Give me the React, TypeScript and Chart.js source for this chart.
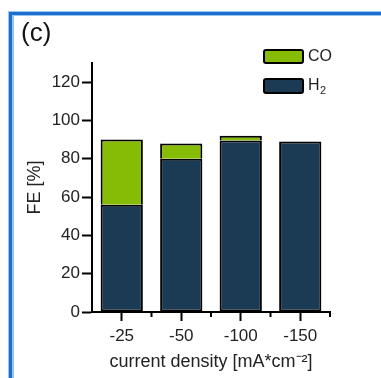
import React, { useEffect, useRef } from "react";
import { Chart, registerables } from "chart.js";

Chart.register(...registerables);

const categories = ["-25", "-50", "-100", "-150"];
const h2Values = [56, 80, 89.5, 89];
const coValues = [34, 8, 2.5, 0];
const yTickLabels = [0, 20, 40, 60, 80, 100, 120];

const FONT = 'Arial, "Liberation Sans", Helvetica, sans-serif';
const GREEN = "#86bc06";
const NAVY = "#1b3a53";

const decorPlugin = {
  id: "decor",
  beforeDraw(chart: any) {
    const ctx = chart.ctx;
    ctx.save();
    ctx.fillStyle = "#ffffff";
    ctx.fillRect(0, 0, chart.width, chart.height);
    // blue frame
    ctx.fillStyle = "#9cc3ee";
    ctx.fillRect(8, 11, 6, chart.height - 11);
    ctx.fillRect(8, 11, chart.width - 8, 5);
    ctx.fillStyle = "#1a6fd0";
    ctx.fillRect(9, 12, 3, chart.height - 12);
    ctx.fillRect(9, 12, chart.width - 9, 3);
    ctx.restore();
  },
  afterDraw(chart: any) {
    const ctx = chart.ctx;
    ctx.save();
    // panel label
    ctx.fillStyle = "#111";
    ctx.font = `26px ${FONT}`;
    ctx.textBaseline = "middle";
    ctx.textAlign = "left";
    ctx.fillText("(c)", 21, 34);

    // minor ticks on x axis at category boundaries
    const xs = chart.scales.x;
    const bottom = chart.chartArea.bottom;
    ctx.strokeStyle = "#000";
    ctx.lineWidth = 2;
    for (let i = 1; i <= categories.length; i++) {
      const px = xs.getPixelForValue(i - 0.5);
      ctx.beginPath();
      ctx.moveTo(px, bottom);
      ctx.lineTo(px, bottom + 5);
      ctx.stroke();
    }

    // legend
    const items = [
      { ds: chart.data.datasets[1], y: 50, h: 13 },
      { ds: chart.data.datasets[0], y: 79, h: 14 },
    ];
    items.forEach((it) => {
      ctx.fillStyle = it.ds.backgroundColor;
      ctx.strokeStyle = "#000";
      ctx.lineWidth = 2;
      ctx.beginPath();
      ctx.roundRect(264, it.y, 39, it.h, 2);
      ctx.fill();
      ctx.stroke();
    });
    ctx.fillStyle = "#222";
    ctx.textBaseline = "middle";
    ctx.font = `16px ${FONT}`;
    ctx.fillText("CO", 308, 57);
    ctx.fillText("H", 308, 86);
    const hw = ctx.measureText("H").width;
    ctx.font = `11px ${FONT}`;
    ctx.fillText("2", 308 + hw + 0.5, 91);
    ctx.restore();
  },
};

export default function App() {
  const ref = useRef<HTMLCanvasElement>(null);
  useEffect(() => {
    if (!ref.current) return;
    const chart = new Chart(ref.current, {
      type: "bar",
      data: {
        labels: categories,
        datasets: [
          {
            label: "H₂",
            data: h2Values,
            backgroundColor: NAVY,
            borderColor: "#000",
            borderWidth: 2,
            borderSkipped: false,
            barPercentage: 0.71,
            categoryPercentage: 1,
          },
          {
            label: "CO",
            data: coValues,
            backgroundColor: GREEN,
            borderColor: "#000",
            borderWidth: 2,
            borderSkipped: "bottom",
            barPercentage: 0.71,
            categoryPercentage: 1,
          },
        ],
      },
      options: {
        animation: false,
        responsive: false,
        devicePixelRatio: 1,
        layout: { padding: { left: 14, right: 51, top: 63, bottom: 0 } },
        plugins: {
          legend: { display: false },
          tooltip: { enabled: false },
        },
        scales: {
          x: {
            stacked: true,
            offset: true,
            afterFit: (s: any) => {
              s.height = 66;
            },
            grid: {
              offset: false,
              drawOnChartArea: false,
              tickLength: 9,
              tickWidth: 2,
              tickColor: "#000",
            },
            border: { display: true, color: "#000", width: 2 },
            ticks: {
              color: "#222",
              font: { family: FONT, size: 17 },
              padding: 5,
            },
            title: {
              display: true,
              text: "current density [mA*cm⁻²]",
              color: "#222",
              font: { family: FONT, size: 18 },
              padding: { top: 0, bottom: 5 },
            },
          },
          y: {
            stacked: true,
            min: 0,
            max: 130,
            afterFit: (s: any) => {
              s.width = 78;
            },
            afterBuildTicks: (s: any) => {
              const t: any[] = [];
              for (let v = 0; v <= 130; v += 10) t.push({ value: v });
              s.ticks = t;
            },
            grid: {
              drawOnChartArea: false,
              tickLength: 10,
              tickWidth: 2,
              tickColor: "#000",
              tickBorderDash: (ctx: any) =>
                yTickLabels.includes(ctx.tick?.value) ? [] : [0, 6, 4, 50],
            },
            border: { display: true, color: "#000", width: 2 },
            ticks: {
              color: "#222",
              font: { family: FONT, size: 17 },
              padding: 2,
              callback: (v: any) => (yTickLabels.includes(Number(v)) ? String(v) : ""),
            },
            title: {
              display: true,
              text: "FE [%]",
              color: "#222",
              font: { family: FONT, size: 18 },
              padding: { top: 10, bottom: 0 },
            },
          },
        },
      },
      plugins: [decorPlugin],
    });
    return () => chart.destroy();
  }, []);
  return (
    <div style={{ position: "absolute", left: 0, top: 0, width: 381, height: 378 }}>
      <canvas ref={ref} width={381} height={378} />
    </div>
  );
}
